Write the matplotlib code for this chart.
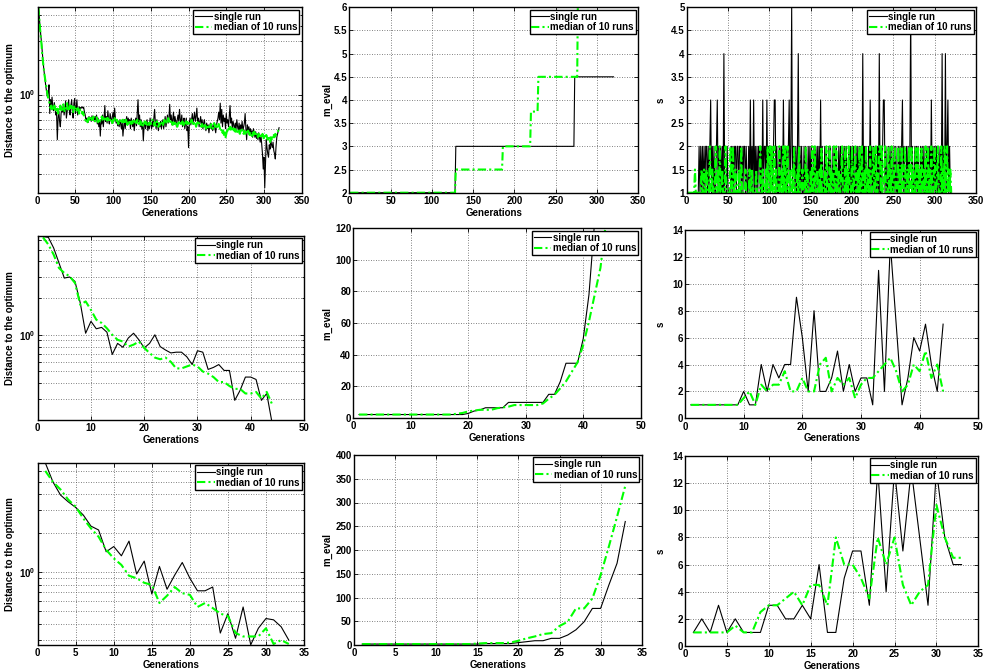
import numpy as np
import matplotlib
matplotlib.use('Agg')
import matplotlib.pyplot as plt
import matplotlib.ticker as mticker
import matplotlib.transforms as mtransforms

plt.rcParams['font.family'] = ['Liberation Sans', 'DejaVu Sans']
plt.rcParams['font.weight'] = 'bold'
plt.rcParams['axes.labelweight'] = 'bold'
plt.rcParams['mathtext.fontset'] = 'custom'
plt.rcParams['mathtext.rm'] = 'Liberation Sans:bold'
plt.rcParams['mathtext.bf'] = 'Liberation Sans:bold'

# ---------------- data ----------------
# row 1: long run (~320 generations)
dist1_single = [
    5.9, 4.9, 4.0, 3.4, 2.9, 2.4, 2.0, 1.7, 1.5, 1.3, 1.15, 1.05, 0.95, 1.05, 1.22, 0.68, 0.9, 0.8, 0.95, 0.78,
    0.72, 0.85, 0.76, 0.66, 0.7, 0.4, 0.62, 0.72, 0.58, 0.52, 0.68, 0.76, 0.7, 0.82, 0.66, 0.74, 0.88, 0.62, 0.7, 0.78,
    0.9, 0.72, 0.66, 0.8, 0.9, 0.7, 0.62, 0.84, 0.92, 0.68, 0.76, 0.9, 0.66, 0.72, 0.78, 0.74, 0.77, 0.76, 0.78, 0.76,
    0.77, 0.7, 0.66, 0.58, 0.62, 0.6, 0.57, 0.64, 0.6, 0.62, 0.58, 0.65, 0.6, 0.63, 0.58, 0.64, 0.6, 0.66, 0.55, 0.62,
    0.52, 0.58, 0.43, 0.6, 0.55, 0.66, 0.52, 0.62, 0.8, 0.58, 0.64, 0.56, 0.72, 0.6, 0.55, 0.68, 0.62, 0.56, 0.64, 0.7,
    0.58, 0.76, 0.62, 0.56, 0.6, 0.53, 0.58, 0.52, 0.6, 0.55, 0.5, 0.58, 0.43, 0.52, 0.6, 0.5, 0.58, 0.64, 0.54, 0.62,
    0.56, 0.6, 0.5, 0.62, 0.56, 0.52, 0.6, 0.48, 0.56, 0.62, 0.53, 0.7, 0.9, 0.58, 0.66, 0.52, 0.6, 0.5, 0.56, 0.39,
    0.52, 0.58, 0.5, 0.55, 0.6, 0.48, 0.56, 0.5, 0.62, 0.54, 0.5, 0.58, 0.52, 0.62, 0.74, 0.56, 0.5, 0.6, 0.54, 0.48,
    0.56, 0.52, 0.58, 0.5, 0.55, 0.6, 0.5, 0.56, 0.64, 0.52, 0.58, 0.66, 0.56, 0.62, 0.82, 0.6, 0.66, 0.54, 0.6, 0.7,
    0.56, 0.64, 0.58, 0.52, 0.6, 0.66, 0.58, 0.74, 0.6, 0.56, 0.66, 0.52, 0.58, 0.62, 0.5, 0.56, 0.62, 0.48, 0.52, 0.34,
    0.56, 0.62, 0.54, 0.6, 0.68, 0.56, 0.62, 0.7, 0.58, 0.64, 0.76, 0.58, 0.62, 0.52, 0.58, 0.64, 0.54, 0.6, 0.5, 0.56,
    0.6, 0.52, 0.48, 0.56, 0.5, 0.54, 0.46, 0.52, 0.56, 0.5, 0.54, 0.48, 0.52, 0.56, 0.5, 0.46, 0.54, 0.58, 0.62, 0.7,
    0.6, 0.84, 0.56, 0.74, 0.52, 0.66, 0.58, 0.62, 0.5, 0.68, 0.56, 0.6, 0.52, 0.64, 0.8, 0.56, 0.62, 0.5, 0.58, 0.54,
    0.48, 0.56, 0.5, 0.6, 0.52, 0.48, 0.56, 0.46, 0.54, 0.5, 0.58, 0.48, 0.52, 0.56, 0.68, 0.5, 0.4, 0.54, 0.48, 0.52,
    0.45, 0.5, 0.44, 0.48, 0.42, 0.5, 0.46, 0.42, 0.47, 0.41, 0.45, 0.4, 0.46, 0.42, 0.38, 0.44, 0.36, 0.3, 0.22, 0.28,
    0.15, 0.24, 0.4, 0.34, 0.3, 0.28, 0.36, 0.33, 0.4, 0.36, 0.34, 0.38, 0.32, 0.3, 0.27, 0.35, 0.42, 0.45, 0.48, 0.51,
]
dist1_median = [
    5.9, 4.8, 3.9, 3.3, 2.8, 2.3, 1.95, 1.7, 1.5, 1.35, 1.2, 1.1, 1.0, 0.93, 0.88,
    0.82, 0.76, 0.8, 0.74, 0.78, 0.72, 0.8, 0.76, 0.7, 0.78, 0.74, 0.68, 0.76, 0.72, 0.8,
    0.75, 0.7, 0.78, 0.82, 0.74, 0.7, 0.76, 0.8, 0.84, 0.74, 0.78, 0.72, 0.8, 0.76, 0.82,
    0.74, 0.7, 0.78, 0.76, 0.72, 0.74, 0.7, 0.76, 0.72, 0.68, 0.74, 0.7, 0.72, 0.68, 0.7,
    0.66, 0.62, 0.6, 0.58, 0.6, 0.57, 0.62, 0.6, 0.64, 0.6, 0.58, 0.62, 0.6, 0.64, 0.61, 0.58, 0.6, 0.63, 0.6, 0.57,
    0.6, 0.62, 0.58, 0.6, 0.64, 0.6, 0.62, 0.58, 0.61, 0.6, 0.63, 0.59, 0.62, 0.6, 0.57, 0.6, 0.62, 0.59, 0.56, 0.6,
    0.58, 0.62, 0.6, 0.57, 0.6, 0.58, 0.55, 0.58, 0.6, 0.56, 0.59, 0.57, 0.6, 0.55, 0.58, 0.56, 0.6, 0.57, 0.54, 0.58,
    0.56, 0.6, 0.57, 0.55, 0.58, 0.56, 0.6, 0.57, 0.55, 0.58,
    0.56, 0.6, 0.58, 0.55, 0.6, 0.57, 0.54, 0.58, 0.56, 0.52, 0.56, 0.58, 0.55, 0.57, 0.53, 0.56, 0.58, 0.54, 0.57, 0.55,
    0.58, 0.6, 0.56, 0.54, 0.57, 0.53, 0.56, 0.58, 0.55, 0.52, 0.56, 0.54, 0.57, 0.55, 0.58, 0.54, 0.56, 0.6, 0.57, 0.55,
    0.58, 0.56, 0.62, 0.58, 0.55, 0.57, 0.6, 0.56, 0.54, 0.57, 0.55, 0.58, 0.54, 0.56, 0.52, 0.55, 0.57, 0.54, 0.56, 0.53,
    0.56, 0.58, 0.55, 0.52, 0.56, 0.54, 0.58, 0.55, 0.57, 0.53, 0.55, 0.58, 0.56, 0.6, 0.57, 0.55, 0.58, 0.54, 0.56, 0.52,
    0.55, 0.57, 0.54, 0.56, 0.53,
    0.54, 0.52, 0.55, 0.5, 0.53, 0.51, 0.54, 0.5, 0.52, 0.49, 0.52, 0.5, 0.53, 0.51, 0.55, 0.52, 0.5, 0.53, 0.56, 0.52,
    0.54, 0.5, 0.53, 0.51, 0.55, 0.52, 0.49, 0.47, 0.5, 0.46, 0.48, 0.44, 0.47, 0.42, 0.45, 0.48, 0.46, 0.5, 0.48, 0.52,
    0.49, 0.51, 0.48, 0.5, 0.47,
    0.5, 0.47, 0.49, 0.46, 0.48, 0.5, 0.47, 0.45, 0.48, 0.46, 0.49, 0.47, 0.45, 0.48, 0.46, 0.44, 0.47, 0.45, 0.48, 0.46,
    0.44, 0.47, 0.45, 0.43, 0.46, 0.44, 0.47, 0.45, 0.43, 0.46, 0.44, 0.42, 0.45, 0.43, 0.41, 0.44, 0.42, 0.45, 0.43, 0.4,
    0.43, 0.41, 0.44, 0.42, 0.4, 0.43, 0.41, 0.38, 0.42, 0.4, 0.43, 0.41, 0.44, 0.42, 0.45, 0.44, 0.46, 0.47, 0.48, 0.5,
]
# m_eval in row 1 is piecewise constant: levels and how many generations each lasts
meval1_single_levels = [2, 3, 4.5]
meval1_single_runs = [128, 144, 48]
meval1_median_levels = [2, 2.5, 3, 3.75, 4.5, 6.5]
meval1_median_runs = [128, 57, 34, 9, 48, 44]
s1_single = [
    1, 1, 1, 1, 1, 1, 1, 1, 1, 1, 1, 1, 1, 1, 2, 1, 2, 1, 2, 1,
    2, 1, 2, 2, 1, 2, 1, 2, 3, 1, 2, 1, 2, 1, 1, 2, 3, 1, 2, 1,
    2, 1, 2, 1, 4, 1, 1, 1, 2, 1, 1, 1, 1, 2, 1, 2, 1, 2, 2, 1,
    2, 2, 1, 2, 2, 1, 2, 1, 2, 2, 1, 2, 1, 1, 2, 1, 3, 1, 2, 1,
    3, 1, 2, 1, 2, 1, 2, 2, 1, 2, 1, 3, 1, 2, 2, 1, 3, 1, 2, 2,
    1, 2, 2, 1, 2, 3, 3, 1, 2, 1, 1, 2, 1, 2, 2, 1, 3, 1, 2, 1,
    2, 1, 2, 3, 1, 2, 5, 1, 2, 2, 1, 2, 1, 2, 4, 1, 2, 1, 2, 1,
    1, 2, 1, 2, 1, 1, 2, 1, 2, 1, 2, 1, 1, 2, 1, 2, 1, 2, 1, 2,
    1, 3, 1, 2, 1, 1, 2, 1, 2, 1, 1, 2, 1, 2, 1, 1, 2, 1, 2, 1,
    2, 1, 1, 2, 1, 2, 1, 1, 2, 1, 2, 1, 2, 1, 1, 2, 1, 2, 1, 2,
    1, 2, 1, 1, 2, 1, 2, 1, 2, 1, 2, 1, 4, 1, 2, 1, 2, 1, 1, 2,
    1, 3, 1, 2, 1, 2, 1, 2, 1, 1, 2, 1, 4, 1, 2, 1, 2, 3, 3, 1,
    2, 1, 1, 2, 1, 2, 1, 2, 1, 1, 2, 1, 2, 1, 1, 2, 1, 2, 1, 2,
    3, 1, 2, 1, 1, 2, 1, 2, 1, 2, 5, 1, 2, 1, 1, 2, 1, 2, 1, 2,
    1, 1, 2, 1, 2, 1, 2, 1, 1, 2, 1, 2, 1, 2, 1, 3, 1, 2, 1, 2,
    1, 2, 1, 1, 2, 1, 2, 1, 4, 1, 2, 1, 4, 1, 2, 3, 1, 2, 1, 1,
]
s1_median = [
    1, 1, 1, 1, 1, 1, 1, 1, 1, 1.5, 1, 1, 1, 1, 1, 1, 1, 1.5, 1, 1,
    1.5, 1, 1, 1.5, 1, 1, 1, 2, 1, 1, 1.5, 1, 1, 1, 2, 1, 1, 1.5, 1, 2,
    1, 1, 1.5, 1, 1, 1, 2, 1, 1, 1, 1, 1, 2, 1, 1, 2, 1, 1, 1.5, 1,
    1, 1, 1.5, 1, 1, 2, 1, 1, 1, 1, 1.5, 1, 1, 1, 1, 1.5, 1, 1, 1.5, 1,
    1, 1, 1, 1.5, 1, 1, 1, 1, 2, 1, 1, 1.5, 1, 1, 1, 1.5, 1, 2, 1, 1,
    2, 1, 2, 1, 1, 2, 1, 1.5, 1, 1, 1, 2, 1, 1, 1.5, 1, 2, 1, 2, 1,
    1, 2, 1, 1, 1.5, 1, 1, 1.5, 1, 2, 1, 1, 1, 1.5, 1, 2, 1, 1, 1, 1.5,
    1, 1, 1, 2, 1, 1.5, 1, 1, 1, 1.5, 1, 2, 1, 1, 2, 1, 1, 1.5, 1, 1,
    1.5, 1, 2, 1, 1, 1, 1.5, 1, 2, 1, 1, 1, 2, 1, 1.5, 1, 1, 2, 1, 1,
    2, 1, 1, 1.5, 1, 1, 1.5, 2, 1, 1, 1, 2, 1, 1.5, 1, 2, 1, 1, 1, 2,
    1, 1, 1.5, 2, 1, 1, 1.5, 1, 2, 1, 1, 2, 1, 1, 1.5, 1, 2, 1, 1, 1.5,
    1, 2, 1, 1, 1.5, 2, 1, 1, 2, 1, 1, 1.5, 2, 2, 1, 2, 1, 1, 1.5, 2,
    1, 1, 1, 2, 1, 1.5, 1, 2, 1, 1, 1.5, 2, 1, 1, 1, 2, 1, 1.5, 1, 2,
    1, 1, 1.5, 2, 1, 1, 1.5, 1, 2, 1, 1, 2, 1, 1.5, 1, 1, 2, 1, 1, 2,
    1, 1.5, 1, 2, 1, 1, 1.5, 1, 2, 1, 1, 2, 1, 1.5, 1, 2, 1, 1, 1.5, 2,
    1, 1, 1.5, 2, 1, 1, 1, 2, 1, 1.5, 1, 2, 1, 1.5, 2, 1, 1.5, 1, 1.5, 1,
]

# row 2: 44 generations
dist2_single = [6.4, 6.3, 5.15, 3.88, 2.92, 2.98, 2.74, 1.82, 1.03, 1.29, 1.12, 1.15, 1.05, 0.69, 0.85,
                0.79, 0.94, 1.03, 0.91, 0.78, 0.85, 1.0, 0.8, 0.75, 0.71, 0.72, 0.72, 0.66, 0.57, 0.74,
                0.72, 0.52, 0.54, 0.57, 0.51, 0.51, 0.29, 0.35, 0.45, 0.45, 0.43, 0.29, 0.33, 0.19]
dist2_median = [6.3, 5.5, 4.54, 3.53, 3.21, 3.02, 2.66, 1.76, 1.88, 1.6, 1.33, 1.25, 1.13, 1.0, 0.91,
                0.88, 0.8, 0.83, 0.88, 0.78, 0.71, 0.65, 0.63, 0.65, 0.6, 0.53, 0.53, 0.55, 0.57, 0.55,
                0.5, 0.48, 0.45, 0.41, 0.41, 0.38, 0.36, 0.36, 0.33, 0.33, 0.34, 0.3, 0.34, 0.27]
meval2_single = [2, 2, 2, 2, 2, 2, 2, 2, 2, 2, 2, 2, 2, 2, 2, 2, 2, 2, 2, 2.7, 4.2, 4.9,
                 6.3, 6.3, 6.3, 6.3, 9.7, 9.7, 9.7, 9.7, 9.7, 9.7, 9.7, 14.8, 14.8, 22.8, 34.5, 34.5,
                 34.5, 50, 78, 125, 190, 290]
meval2_median = [2, 2, 2, 2, 2, 2, 2, 2, 2, 2, 2, 2, 2, 2, 2, 2, 2, 2.5, 3, 4, 4.5, 5,
                 5, 5, 6, 6.5, 7, 8, 8, 8, 8, 8, 9, 12, 14.5, 18.6, 23, 29,
                 35, 46, 61, 78, 95, 125]
s2_single = [1, 1, 1, 1, 1, 1, 1, 1, 1, 2, 1, 1, 4, 2, 4, 3, 4, 4, 9, 6, 2, 8,
             2, 2, 3, 5, 2, 4, 2, 3, 3, 1, 11, 2, 13, 7, 1, 3, 6, 5, 7, 4, 2, 7]
s2_median = [1, 1, 1, 1, 1, 1, 1, 1, 1, 1.5, 2, 1, 2.5, 2, 2.5, 2.5, 3.5, 2, 2, 3, 2, 2,
             4, 4.5, 2, 3, 2.5, 3, 1.5, 2.5, 3, 3, 3.5, 4, 4.5, 3.5, 2, 2.5, 4, 3.5, 5, 3, 4, 2]

# row 3: 33 generations
dist3_single = [6.98, 4.98, 3.94, 3.5, 3.16, 2.76, 2.27, 2.12, 1.44, 1.58, 1.34, 1.74, 0.97, 1.22, 0.68,
                1.11, 0.74, 0.95, 1.19, 0.9, 0.72, 0.72, 0.77, 0.34, 0.48, 0.31, 0.54, 0.276, 0.37, 0.44,
                0.43, 0.38, 0.3]
dist3_median = [6.05, 4.98, 4.35, 3.64, 3.2, 2.6, 2.18, 1.88, 1.49, 1.28, 1.14, 0.94, 0.9, 0.83, 0.8,
                0.58, 0.66, 0.77, 0.69, 0.67, 0.54, 0.58, 0.53, 0.48, 0.46, 0.34, 0.32, 0.32, 0.32, 0.37,
                0.28, 0.3, 0.28]
meval3_single = [2, 2, 2, 2, 2, 2, 2, 2, 2, 2, 2, 2, 2, 2, 2, 3, 3, 3, 3, 5, 7, 9, 9,
                 14, 14, 21, 32, 49, 77, 77, 126, 172, 260]
meval3_median = [2, 2, 2, 2, 2, 2, 2, 2, 2, 2, 2, 2, 2, 2, 3, 4, 4, 4, 5, 9, 14, 18, 23,
                 25, 40, 49, 77, 77, 98, 147, 207, 270, 335]
s3_single = [1, 2, 1, 3, 1, 2, 1, 1, 1, 3, 3, 2, 2, 3, 2, 6, 1, 1, 5, 7, 7, 3,
             13, 4, 13, 7, 13, 8, 3, 13, 8, 6, 6]
s3_median = [1, 1, 1, 1, 1, 1.5, 1, 1, 2.5, 3, 3, 3.5, 4, 3, 4.5, 4.5, 3, 8, 6, 6, 5, 3.5,
             8, 6, 8, 4.5, 3, 4, 4.5, 10.4, 8, 6.5, 6.5]

legend_labels = ['single run', 'median of 10 runs']
x_label = 'Generations'
y_labels = ['Distance to the optimum', 'm_eval', 's']

# ---------------- layout ----------------
W, H = 988, 671
fig = plt.figure(figsize=(W / 100, H / 100), dpi=100)


def px_rect(l, t, r, b):
    return [l / W, 1 - b / H, (r - l) / W, (b - t) / H]


rects = [
    [(37.7, 7.3, 301.7, 192.7), (349.3, 7.3, 638.3, 192.7), (686.7, 7.3, 976, 192.7)],
    [(37.7, 235.7, 304, 420), (353.3, 228.3, 640.7, 417.7), (685, 230, 978.3, 418.3)],
    [(37.7, 462.7, 304, 645), (354, 455, 641.7, 645), (685, 456, 978.3, 646)],
]
label_x = [15, 332, 666]  # right edge of the y labels, pixels

m1_single = np.repeat(meval1_single_levels, meval1_single_runs)
m1_median = np.repeat(meval1_median_levels, meval1_median_runs)

panels = [
    [(dist1_single, dist1_median), (m1_single, m1_median), (s1_single, s1_median)],
    [(dist2_single, dist2_median), (meval2_single, meval2_median), (s2_single, s2_median)],
    [(dist3_single, dist3_median), (meval3_single, meval3_median), (s3_single, s3_median)],
]
xlims = [(0, 350, 50), (0, 50, 10), (0, 35, 5)]
ylims = [
    [(0.136, 5.9, None), (2, 6, 0.5), (1, 5, 0.5)],
    [(0.2, 6.5, None), (0, 120, 20), (0, 14, 2)],
    [(0.275, 7.0, None), (0, 400, 50), (0, 14, 2)],
]

GREEN = '#00ff00'
fmt_g = mticker.FuncFormatter(lambda v, p: '%g' % v)
grid_kw = dict(color='0.35', linestyle=(0, (1, 2)), linewidth=0.6)

for r in range(3):
    for c in range(3):
        ax = fig.add_axes(px_rect(*rects[r][c]))
        single, median = panels[r][c]
        ax.plot(np.arange(1, len(single) + 1), single, color='black', lw=0.8,
                label=legend_labels[0])
        ax.plot(np.arange(1, len(median) + 1), median, color=GREEN, lw=1.5,
                dashes=(4, 1.5, 1, 1.5), label=legend_labels[1])

        x0, x1, xs = xlims[r]
        ax.set_xlim(x0, x1)
        ax.xaxis.set_major_locator(mticker.MultipleLocator(xs))
        ax.xaxis.set_major_formatter(fmt_g)

        y0, y1, ys = ylims[r][c]
        if c == 0:
            ax.set_yscale('log')
            ax.set_ylim(y0, y1)
            ax.yaxis.set_major_locator(mticker.LogLocator(base=10))
            ax.yaxis.set_minor_locator(mticker.LogLocator(base=10, subs=np.arange(2, 10)))
            ax.yaxis.set_major_formatter(mticker.FuncFormatter(
                lambda v, p: r'$\mathbf{10^{%d}}$' % round(np.log10(v))))
            ax.yaxis.set_minor_formatter(mticker.NullFormatter())
            ax.grid(True, which='both', axis='y', **grid_kw)
        else:
            ax.set_ylim(y0, y1)
            ax.yaxis.set_major_locator(mticker.MultipleLocator(ys))
            ax.yaxis.set_major_formatter(fmt_g)
            ax.grid(True, which='major', axis='y', **grid_kw)
        ax.grid(True, which='major', axis='x', **grid_kw)

        ax.tick_params(which='both', direction='in', top=True, right=True,
                       labelsize=7, width=0.6)
        ax.tick_params(which='major', length=3)
        ax.tick_params(which='minor', length=1.8)
        ax.tick_params(axis='x', pad=2.5)
        ax.tick_params(axis='y', pad=1.5)
        for sp in ax.spines.values():
            sp.set_linewidth(1.0)

        ax.set_xlabel(x_label, fontsize=7, fontweight='bold', labelpad=1)
        ax.set_ylabel(y_labels[c], fontsize=7, fontweight='bold')
        trans = mtransforms.blended_transform_factory(fig.transFigure, ax.transAxes)
        ax.yaxis.set_label_coords(label_x[c] / W, 0.5, transform=trans)

        leg = ax.legend(loc='upper right', fancybox=False, framealpha=1,
                        edgecolor='black', prop={'size': 7, 'weight': 'bold'},
                        handlelength=1.8, handletextpad=0.15, borderpad=0.2,
                        labelspacing=0.05, borderaxespad=0.25)
        leg.get_frame().set_linewidth(1.0)

fig.savefig('out.png', dpi=100)
